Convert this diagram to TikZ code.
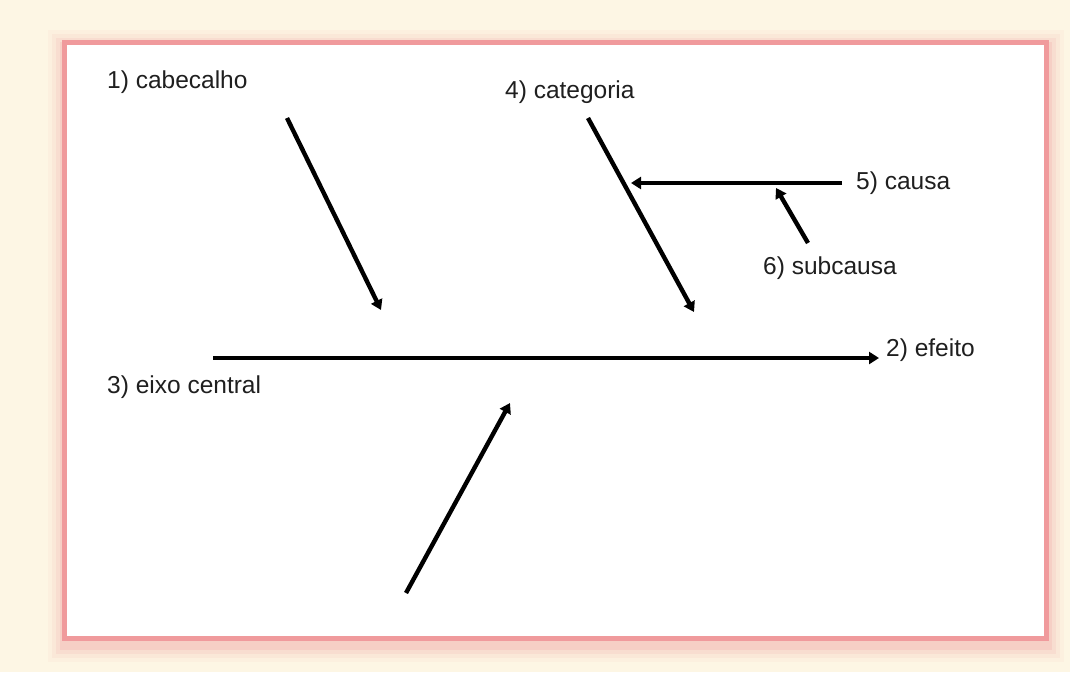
\documentclass[tikz,border=0pt]{standalone}
\usepackage{fontspec}
\setmainfont{Liberation Sans}
\usetikzlibrary{arrows.meta}
\definecolor{cream}{HTML}{FDF6E4}
\definecolor{framepink}{HTML}{F09A9C}
\tikzset{
  lbl/.style={font=\fontsize{24.5}{28}\selectfont, text=black!88, inner sep=0pt},
  arr/.style={line width=4.4pt, -{Triangle[length=10pt,width=12pt]}},
}
\begin{document}
\begin{tikzpicture}[x=1pt,y=-1pt]
\useasboundingbox (0,0) rectangle (1070,672);
\fill[cream] (0,0) rectangle (1070,672);
% glow / shadow
\foreach \i/\o in {16/0.06,12/0.09,8/0.13,4/0.2}{
  \fill[framepink,opacity=\o] (64-\i,40-\i+6) rectangle (1048+\i,640+\i+6);
}
\filldraw[fill=white,draw=framepink,line width=5pt] (64,42) rectangle (1046,638);
% labels
\node[lbl,anchor=west] (cab) at (107,82) {1) cabecalho};
\node[lbl,anchor=west] (cat) at (505,92) {4) categoria};
\node[lbl,anchor=west] (cau) at (856,183) {5) causa};
\node[lbl,anchor=west] (sub) at (763,268) {6) subcausa};
\node[lbl,anchor=west] (efe) at (886,350) {2) efeito};
\node[lbl,anchor=west] (eix) at (107,387) {3) eixo central};
% coordinates
\coordinate (a1s) at (287,118);
\coordinate (a1e) at (381,310);
\coordinate (a4s) at (588,118);
\coordinate (a4e) at (694,312);
\coordinate (a5s) at (842,183);
\coordinate (a5e) at (631,183);
\coordinate (a6s) at (808,243);
\coordinate (a6e) at (776,188);
\coordinate (axs) at (213,358);
\coordinate (axe) at (879,358);
\coordinate (abs) at (406,593);
\coordinate (abe) at (510,403);
% arrows
\draw[arr] (a1s) -- (a1e);
\draw[arr] (a4s) -- (a4e);
\draw[arr] (a5s) -- (a5e);
\draw[arr] (a6s) -- (a6e);
\draw[arr] (axs) -- (axe);
\draw[arr] (abs) -- (abe);
\end{tikzpicture}
\end{document}
